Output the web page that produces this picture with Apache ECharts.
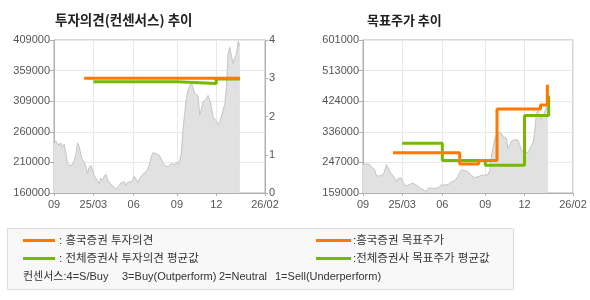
<!DOCTYPE html>
<html><head><meta charset="utf-8">
<script src="https://cdn.jsdelivr.net/npm/echarts@6/dist/echarts.min.js"></script>
<style>html,body{margin:0;padding:0;background:#fff}#c{width:590px;height:300px}</style>
</head><body><div id="c"></div>
<script>
// x positions of month ticks (in trading-day index units) and their labels
const xTickPos = [0, 23.5, 47.6, 73.4, 96.9, 126];
const xTickLabels = ['09', '25/03', '06', '09', '12', '26/02'];

// daily close price (approx.)
const price = [
  240500, 244800, 243200, 237800, 241600, 234000, 239400, 226900, 209000, 205200,
  207900, 205700, 212200, 221500, 241600, 236200, 223100, 214400, 210600, 202500,
  191600, 201400, 205200, 202500, 188300, 185100, 179600, 175300, 184000, 179600,
  187200, 190500, 181800, 177400, 174200, 172000, 168800, 165500, 163300, 172600,
  176400, 173600, 178500, 172000, 177400, 174200, 178000, 181800, 187200, 182300,
  177400, 182900, 186100, 190500, 192700, 194800, 199200, 206800, 218800, 225300,
  227500, 224200, 222000, 220900, 215500, 209000, 205200, 203500, 202500, 205700,
  207900, 210100, 205700, 210100, 206800, 212200, 223100, 262200, 289400, 313900,
  327500, 334000, 339400, 331800, 322000, 324200, 317700, 286700, 295900, 308400,
  306800, 313300, 318800, 311200, 299200, 282900, 281800, 277500, 272000, 275300,
  278500, 294900, 304600, 332900, 388300, 397000, 381800, 370900, 380700, 386200,
  407000, 399200
];

// left chart price axis ticks and labels
const opinionPriceTicks = [160000, 209800, 259600, 309400, 359200, 409000];
const opinionPriceLabels = ['160000', '210000', '260000', '309000', '359000', '409000'];
// right chart price axis ticks and labels
const targetPriceTicks = [159000, 247400, 335800, 424200, 512600, 601000];
const targetPriceLabels = ['159000', '247000', '336000', '424000', '513000', '601000'];

// investment opinion (consensus) : [x index, score]
const ratingHK = [[18, 3], [111, 3]];
const ratingAvg = [[23.5, 2.91], [73.4, 2.86], [96.9, 2.98], [111, 2.98]];
// target price : [x index, price]
const targetHK = [[18, 275000], [58, 243000], [69.4, 253000], [80.4, 402000], [106.5, 413000], [110.6, 472000]];
const targetAvg = [[23.5, 303000], [47.6, 253000], [73.4, 239000], [96.9, 383000], [111.4, 440000]];

const ORANGE = '#ff7800';
const GREEN = '#77b800';
const AX = '#b0b0b0';
const GRIDC = '#e8e8e8';
const LBL = '#555';
const FONT = "'Liberation Sans', Arial, 'Noto Sans CJK KR', sans-serif";
const KFONT = "'Liberation Sans', Arial, 'Noto Sans CJK KR', sans-serif";

const priceData = price.map((v, i) => [i, v]);

function xAxisCfg(gi) {
  return {
    type: 'value', gridIndex: gi, min: 0, max: 126,
    axisLine: { show: true, lineStyle: { color: AX } },
    axisTick: { show: true, customValues: xTickPos, length: 3, lineStyle: { color: AX } },
    axisLabel: {
      customValues: xTickPos, margin: 6, color: LBL, fontSize: 11, fontFamily: FONT,
      formatter: v => xTickLabels[xTickPos.indexOf(v)]
    },
    splitLine: { show: true, lineStyle: { color: GRIDC } }
  };
}
function priceAxisCfg(gi, ticks, labels) {
  return {
    type: 'value', gridIndex: gi, position: 'left', min: ticks[0], max: ticks[ticks.length - 1],
    axisLine: { show: true, lineStyle: { color: AX } },
    axisTick: { show: true, customValues: ticks, length: 4, lineStyle: { color: AX } },
    axisLabel: {
      customValues: ticks, margin: 4, color: LBL, fontSize: 11, fontFamily: FONT,
      formatter: v => labels[ticks.indexOf(v)]
    },
    splitLine: { show: true, lineStyle: { color: GRIDC } }
  };
}

const chart = echarts.init(document.getElementById('c'), null, { renderer: 'canvas' });
const LF = "11.5px " + KFONT;
chart.setOption({
  animation: false,
  backgroundColor: '#fff',
  grid: [
    { left: 54, top: 40, width: 211, height: 153, show: true, borderColor: AX, borderWidth: 1 },
    { left: 363, top: 40, width: 210, height: 153, show: true, borderColor: AX, borderWidth: 1 }
  ],
  xAxis: [xAxisCfg(0), xAxisCfg(1)],
  yAxis: [
    priceAxisCfg(0, opinionPriceTicks, opinionPriceLabels),
    {
      type: 'value', gridIndex: 0, position: 'right', min: 0, max: 4, interval: 1,
      axisLine: { show: true, lineStyle: { color: AX } },
      axisTick: { show: true, length: 3, lineStyle: { color: AX } },
      axisLabel: { margin: 4, color: LBL, fontSize: 11, fontFamily: FONT },
      splitLine: { show: false }
    },
    priceAxisCfg(1, targetPriceTicks, targetPriceLabels)
  ],
  series: [
    {
      type: 'line', xAxisIndex: 0, yAxisIndex: 0, data: priceData, showSymbol: false, silent: true,
      lineStyle: { color: '#c4c4c4', width: 1 }, areaStyle: { color: '#e1e1e1', opacity: 1 }
    },
    {
      type: 'line', xAxisIndex: 0, yAxisIndex: 1, data: ratingAvg, step: 'end', showSymbol: false,
      lineStyle: { color: GREEN, width: 3 }
    },
    {
      type: 'line', xAxisIndex: 0, yAxisIndex: 1, data: ratingHK, step: 'end', showSymbol: false,
      lineStyle: { color: ORANGE, width: 3 }
    },
    {
      type: 'line', xAxisIndex: 1, yAxisIndex: 2, data: priceData, showSymbol: false, silent: true,
      lineStyle: { color: '#c4c4c4', width: 1 }, areaStyle: { color: '#e1e1e1', opacity: 1 }
    },
    {
      type: 'line', xAxisIndex: 1, yAxisIndex: 2, data: targetAvg, step: 'end', showSymbol: false,
      lineStyle: { color: GREEN, width: 3 }
    },
    {
      type: 'line', xAxisIndex: 1, yAxisIndex: 2, data: targetHK, step: 'end', showSymbol: false,
      lineStyle: { color: ORANGE, width: 3 }
    }
  ],
  graphic: [
    { type: 'text', style: { text: '투자의견(컨센서스) 추이', x: 55, y: 20, verticalAlign: 'middle', fill: '#222', font: "bold 13.5px 'Noto Sans CJK KR', sans-serif" } },
    { type: 'text', style: { text: '목표주가 추이', x: 367, y: 20, verticalAlign: 'middle', fill: '#222', font: "bold 13px 'Noto Sans CJK KR', sans-serif" } },
    { type: 'rect', shape: { x: 7.5, y: 228.5, width: 506, height: 61 }, style: { fill: '#f8f8f8', stroke: '#dcdcdc', lineWidth: 1 } },
    { type: 'line', shape: { x1: 23, y1: 240.5, x2: 55, y2: 240.5 }, style: { stroke: ORANGE, lineWidth: 3 } },
    { type: 'line', shape: { x1: 23, y1: 258.5, x2: 55, y2: 258.5 }, style: { stroke: GREEN, lineWidth: 3 } },
    { type: 'line', shape: { x1: 316, y1: 240.5, x2: 351, y2: 240.5 }, style: { stroke: ORANGE, lineWidth: 3 } },
    { type: 'line', shape: { x1: 316, y1: 258.5, x2: 351, y2: 258.5 }, style: { stroke: GREEN, lineWidth: 3 } },
    { type: 'text', style: { text: ': 흥국증권 투자의견', x: 59, y: 241, verticalAlign: 'middle', fill: '#333', font: LF } },
    { type: 'text', style: { text: ': 전체증권사 투자의견 평균값', x: 59, y: 259, verticalAlign: 'middle', fill: '#333', font: LF } },
    { type: 'text', style: { text: ':흥국증권 목표주가', x: 353, y: 241, verticalAlign: 'middle', fill: '#333', font: LF } },
    { type: 'text', style: { text: ':전체증권사 목표주가 평균값', x: 353, y: 259, verticalAlign: 'middle', fill: '#333', font: LF } },
    { type: 'text', style: { text: '컨센서스:4=S/Buy', x: 23, y: 277, verticalAlign: 'middle', fill: '#333', font: "11px " + KFONT } },
    { type: 'text', style: { text: '3=Buy(Outperform)', x: 122, y: 277, verticalAlign: 'middle', fill: '#333', font: "11px " + KFONT } },
    { type: 'text', style: { text: '2=Neutral', x: 219, y: 277, verticalAlign: 'middle', fill: '#333', font: "11px " + KFONT } },
    { type: 'text', style: { text: '1=Sell(Underperform)', x: 275, y: 277, verticalAlign: 'middle', fill: '#333', font: "11px " + KFONT } }
  ]
});
</script>
</body></html>
